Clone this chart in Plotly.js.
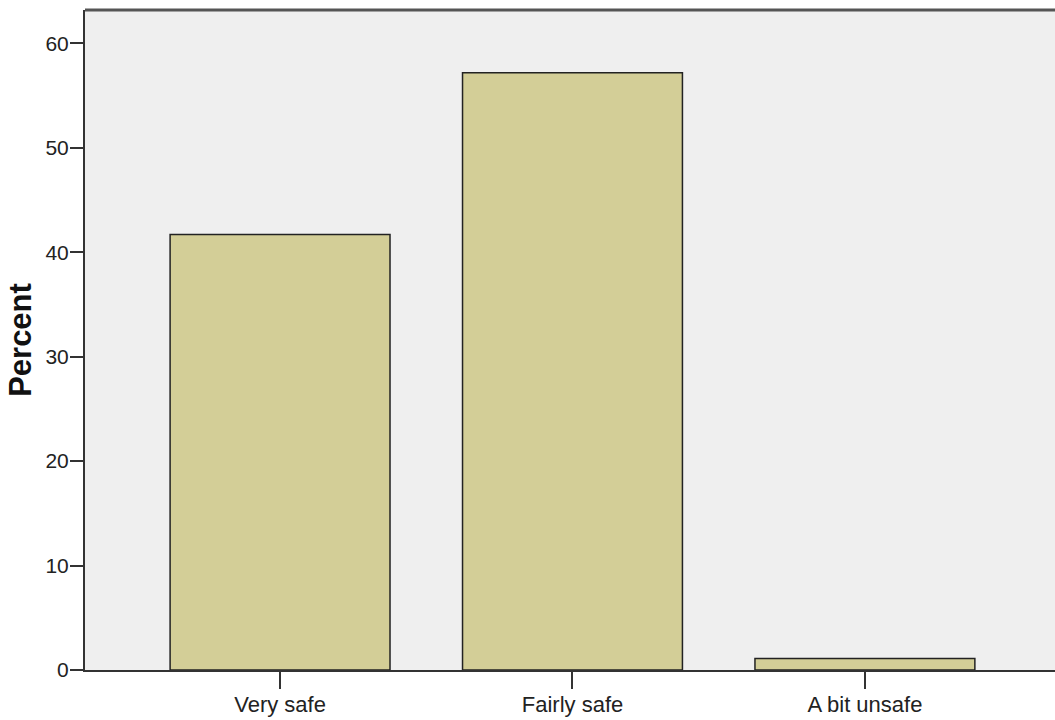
<!DOCTYPE html>
<html>
<head>
<meta charset="utf-8">
<script src="https://cdn.plot.ly/plotly-3.0.1.min.js"></script>
<style>html,body{margin:0;padding:0;background:#fff;}#chart{width:1055px;height:720px;}</style>
</head>
<body>
<div id="chart"></div>
<script>
const categories = ["Very safe", "Fairly safe", "A bit unsafe"];
const percentValues = [41.7, 57.2, 1.1];
const yTickValues = [0, 10, 20, 30, 40, 50, 60];

const sans = "Liberation Sans, Arial, sans-serif";

const trace = {
  type: "bar",
  x: categories,
  y: percentValues,
  marker: { color: "#d3ce97", line: { color: "#222222", width: 1.5 } },
  hoverinfo: "x+y"
};

const layout = {
  width: 1055, height: 720,
  margin: { l: 85, r: 0, t: 10, b: 50, pad: 0 },
  paper_bgcolor: "#ffffff",
  plot_bgcolor: "#efefef",
  showlegend: false,
  bargap: 0.248,
  xaxis: {
    type: "category",
    range: [-0.667, 2.65],
    showgrid: false, zeroline: false,
    showline: true, linecolor: "#333333", linewidth: 2,
    ticks: "outside", ticklen: 17, tickwidth: 2, tickcolor: "#333333",
    tickfont: { family: sans, size: 22, color: "#222222" },
    ticklabelstandoff: -3,
    automargin: false
  },
  yaxis: {
    range: [0, 63.2],
    tickvals: yTickValues,
    showgrid: false, zeroline: false,
    showline: true, linecolor: "#333333", linewidth: 2,
    ticks: "outside", ticklen: 13, tickwidth: 2, tickcolor: "#333333",
    tickfont: { family: sans, size: 21, color: "#222222" },
    ticklabelstandoff: -3,
    automargin: false,
    title: { text: "<b>Percent</b>", font: { family: sans, size: 31, color: "#111111" }, standoff: 5 }
  },
  shapes: [
    { type: "line", xref: "paper", yref: "paper", x0: 0, x1: 1, y0: 1, y1: 1, line: { color: "#555555", width: 3 } }
  ]
};

Plotly.newPlot("chart", [trace], layout, { displayModeBar: false, staticPlot: true });
</script>
</body>
</html>
